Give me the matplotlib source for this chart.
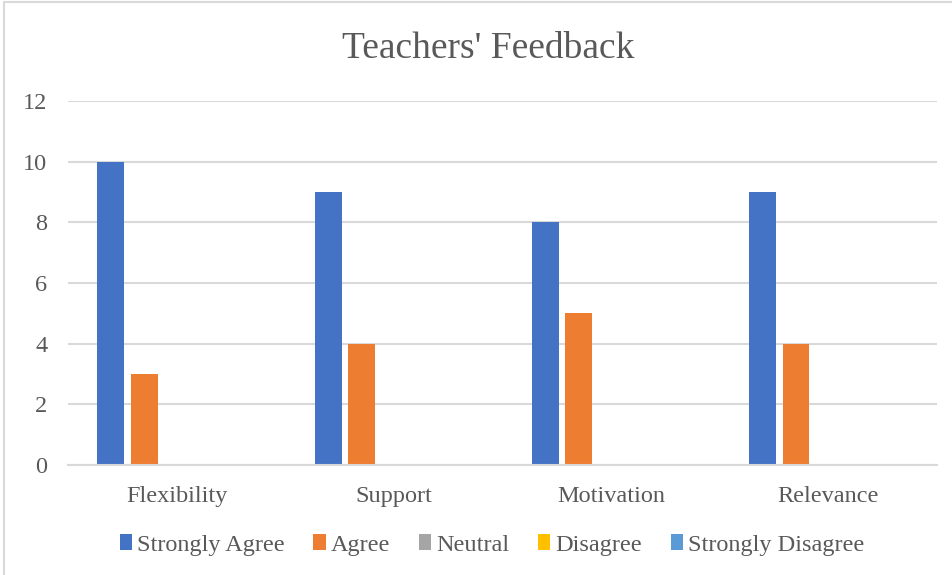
import numpy as np
import matplotlib.pyplot as plt
from matplotlib.patches import Rectangle

plt.rcParams['font.family'] = ['Liberation Serif', 'DejaVu Serif']

categories = ["Flexibility", "Support", "Motivation", "Relevance"]
series_names = ["Strongly Agree", "Agree", "Neutral", "Disagree", "Strongly Disagree"]
strongly_agree = [10, 9, 8, 9]
agree = [3, 4, 5, 4]
neutral = [0, 0, 0, 0]
disagree = [0, 0, 0, 0]
strongly_disagree = [0, 0, 0, 0]
colors = ["#4472C4", "#ED7D31", "#A5A5A5", "#FFC000", "#5B9BD5"]

values = [strongly_agree, agree, neutral, disagree, strongly_disagree]
txt = "#595959"
grid = "#D9D9D9"

fig = plt.figure(figsize=(9.52, 5.75), dpi=100)
ax = fig.add_axes([68/952, 1-465/575, (937-68)/952, (465-101)/575])

x = np.arange(len(categories))
step = 0.154
width = 0.124
for i, (name, vals) in enumerate(zip(series_names, values)):
    ax.bar(x + (i-2)*step + 0.005, vals, width, color=colors[i], label=name)

ax.set_xlim(-0.5, len(categories)-0.5)
ax.set_ylim(0, 12)
ax.set_yticks(range(0, 13, 2))
ax.set_xticks(x)
ax.set_xticklabels(categories)
ax.tick_params(axis='both', length=0, colors=txt, labelsize=17.5)
ax.tick_params(axis='y', pad=15)
ax.tick_params(axis='x', pad=15)
ax.grid(axis='y', color=grid, linewidth=1.5)
ax.set_axisbelow(True)
for s in ["top", "right", "left"]:
    ax.spines[s].set_visible(False)
ax.spines["bottom"].set_color(grid)
ax.spines["bottom"].set_linewidth(1.5)

fig.text(488/952, 1-49/575, "Teachers' Feedback", ha='center', va='center',
         fontsize=27, color=txt)

fig.legend(loc='center', bbox_to_anchor=(492/952, 1-545/575), ncol=5,
           frameon=False, fontsize=17.5, labelcolor=txt,
           handlelength=0.5, handleheight=0.6, handletextpad=0.2,
           columnspacing=1.2)

fig.patches.append(Rectangle((4/952, -0.01), 1.0, 1-2/575+0.01,
                             transform=fig.transFigure, fill=False,
                             edgecolor=grid, linewidth=1.5))

fig.savefig("out.png", dpi=100)
